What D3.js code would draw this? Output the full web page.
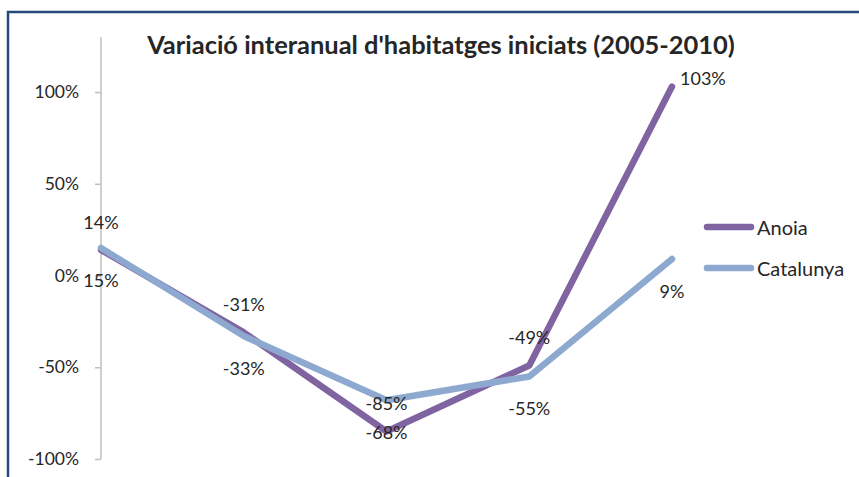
<!DOCTYPE html>
<html>
<head>
<meta charset="utf-8">
<script src="https://cdn.jsdelivr.net/npm/d3@7"></script>
<style>
  html, body { margin: 0; padding: 0; background: #fff; }
  svg { display: block; }
  text { font-family: Lato, "Open Sans", sans-serif; fill: #262626; }
</style>
</head>
<body>
<svg id="chart" width="859" height="477"></svg>
<script>
// ---- data ----
const categories = ["2006", "2007", "2008", "2009", "2010"];
const anoia = [14, -31, -85, -49, 103];
const catalunya = [15, -33, -68, -55, 9];
const yTicks = [-100, -50, 0, 50, 100];
const seriesNames = ["Anoia", "Catalunya"];
const title = "Variació interanual d'habitatges iniciats (2005-2010)";

// label placement (not data)
const anoiaLabelPos = ["above", "above", "above", "above", "right"];
const catalunyaLabelPos = ["below", "below", "below", "below", "below"];

const colors = { Anoia: "#8064A2", Catalunya: "#8EA9D0" };

const svg = d3.select("#chart");

// frame
svg.append("path")
  .attr("d", "M8,480 V12 H862")
  .attr("fill", "none")
  .attr("stroke", "#254B7E")
  .attr("stroke-width", 2.5);

const x = d3.scalePoint().domain(categories).range([101, 672]);
const y = d3.scaleLinear().domain([-100, 130]).range([459, 37]);

// title
const t = svg.append("text")
  .attr("x", 441).attr("y", 54)
  .attr("text-anchor", "middle")
  .attr("font-weight", "bold")
  .attr("font-size", 21)
  .text(title);
const tw = t.node().getComputedTextLength();
t.attr("font-size", 21 * 588 / tw);

// y axis
const yAxis = d3.axisLeft(y)
  .tickValues(yTicks)
  .tickSize(6)
  .tickPadding(16)
  .tickFormat(d => d + "%");
const ag = svg.append("g").attr("transform", "translate(101,0)").call(yAxis);
ag.select(".domain").attr("stroke", "#BFBFBF").attr("stroke-width", 1.5)
  .attr("d", `M0,${y(130)}V${y(-100)}`);
ag.selectAll(".tick line").attr("stroke", "#BFBFBF").attr("stroke-width", 1.5);
ag.selectAll(".tick text")
  .attr("font-size", 17.5)
  .attr("font-family", "Lato, 'Open Sans', sans-serif")
  .attr("fill", "#262626");

// lines
const line = d3.line().x((d, i) => x(categories[i])).y(d => y(d));
const series = [
  { name: "Anoia", values: anoia, pos: anoiaLabelPos },
  { name: "Catalunya", values: catalunya, pos: catalunyaLabelPos }
];

series.forEach(s => {
  svg.append("path")
    .datum(s.values)
    .attr("d", line)
    .attr("fill", "none")
    .attr("stroke", colors[s.name])
    .attr("stroke-width", 6.5)
    .attr("stroke-linejoin", "round")
    .attr("stroke-linecap", "round");
});

// data labels
series.forEach(s => {
  svg.append("g").selectAll("text")
    .data(s.values)
    .join("text")
    .attr("font-size", 18)
    .attr("dominant-baseline", "central")
    .attr("text-anchor", (d, i) => s.pos[i] === "right" ? "start" : "middle")
    .attr("x", (d, i) => x(categories[i]) + (s.pos[i] === "right" ? 8 : 0))
    .attr("y", (d, i) => y(d) + (s.pos[i] === "above" ? -28 : s.pos[i] === "below" ? 32 : -9))
    .text(d => d + "%");
});

// legend
const lg = svg.append("g");
seriesNames.forEach((n, i) => {
  const ly = 227 + i * 41;
  lg.append("line")
    .attr("x1", 707).attr("x2", 751)
    .attr("y1", ly).attr("y2", ly)
    .attr("stroke", colors[n])
    .attr("stroke-width", 6.5)
    .attr("stroke-linecap", "round");
  lg.append("text")
    .attr("x", 757).attr("y", ly)
    .attr("dominant-baseline", "central")
    .attr("font-size", 20)
    .text(n);
});
</script>
</body>
</html>
